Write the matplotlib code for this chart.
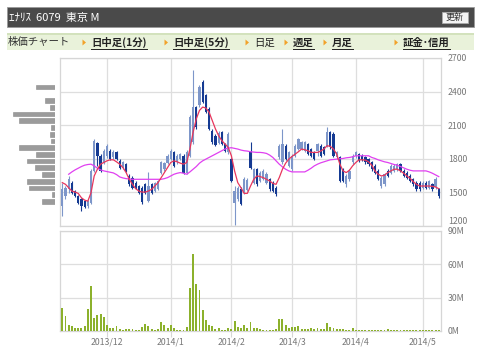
import numpy as np
import matplotlib
matplotlib.use("Agg")
import matplotlib.pyplot as plt
from matplotlib.patches import Rectangle, Polygon
from matplotlib.lines import Line2D

plt.rcParams['font.family'] = ['Noto Sans CJK JP', 'DejaVu Sans']

# ---- データ ----
opens = [1377, 1467, 1527, 1587, 1512, 1467, 1443, 1422, 1377, 1407,
         1692, 1941, 1827, 1767, 1827, 1872, 1812, 1857, 1782, 1722,
         1752, 1647, 1632, 1587, 1557, 1542, 1572, 1422, 1572, 1512,
         1533, 1677, 1707, 1761, 1797, 1857, 1767, 1797, 1827, 1677,
         1827, 1947, 2262, 2277, 2487, 2367, 2247, 2052, 2007, 1941,
         2037, 1932, 1857, 1797, 1407, 1437, 1530, 1497, 1521, 1857,
         1587, 1707, 1602, 1623, 1587, 1617, 1587, 1542, 1812, 1767,
         1917, 1737, 1707, 1827, 1887, 1887, 1872, 1932, 1887, 1857,
         1872, 1917, 1902, 1917, 2037, 2022, 1812, 1812, 1707, 1572,
         1617, 1767, 1821, 1842, 1827, 1812, 1797, 1767, 1737, 1692,
         1557, 1572, 1692, 1677, 1692, 1707, 1752, 1692, 1677, 1647,
         1617, 1587, 1587, 1542, 1587, 1542, 1572, 1545, 1527]
highs = [1587, 1557, 1647, 1600, 1520, 1475, 1450, 1430, 1435, 1710,
         1977, 1950, 1840, 1890, 1935, 1890, 1880, 1870, 1795, 1780,
         1765, 1660, 1645, 1600, 1570, 1555, 1585, 1680, 1585, 1595,
         1615, 1780, 1775, 1840, 1890, 1870, 1840, 1855, 1845, 1875,
         2190, 2592, 2275, 2460, 2500, 2380, 2260, 2065, 2020, 2045,
         2050, 1945, 2035, 1810, 1557, 1560, 1551, 1635, 1625, 1947,
         1720, 1720, 1690, 1705, 1680, 1630, 1600, 1555, 1935, 2067,
         1930, 1870, 1840, 1930, 1990, 1960, 1960, 1945, 1900, 1870,
         1945, 1930, 1915, 2082, 2050, 2035, 1870, 1825, 1720, 1660,
         1705, 1840, 1870, 1855, 1840, 1825, 1810, 1780, 1750, 1705,
         1645, 1675, 1705, 1750, 1750, 1765, 1765, 1705, 1690, 1660,
         1630, 1600, 1600, 1600, 1600, 1615, 1585, 1635, 1540]
lows = [1287, 1437, 1497, 1485, 1455, 1395, 1332, 1360, 1365, 1395,
        1680, 1737, 1680, 1750, 1810, 1785, 1800, 1785, 1710, 1710,
        1680, 1560, 1530, 1530, 1485, 1400, 1485, 1410, 1485, 1500,
        1520, 1665, 1695, 1750, 1785, 1725, 1755, 1785, 1665, 1665,
        1815, 1935, 2070, 2265, 2295, 2205, 2055, 1935, 1910, 1930,
        1920, 1860, 1845, 1590, 1212, 1425, 1390, 1485, 1510, 1710,
        1575, 1560, 1590, 1610, 1575, 1515, 1500, 1470, 1800, 1750,
        1785, 1725, 1690, 1815, 1875, 1875, 1860, 1830, 1815, 1785,
        1825, 1815, 1830, 1905, 1890, 1815, 1800, 1590, 1590, 1545,
        1605, 1755, 1810, 1770, 1780, 1755, 1740, 1695, 1660, 1610,
        1540, 1560, 1635, 1665, 1680, 1695, 1680, 1635, 1620, 1590,
        1560, 1515, 1515, 1530, 1530, 1530, 1515, 1530, 1452]
closes = [1527, 1542, 1617, 1497, 1467, 1407, 1377, 1371, 1422, 1692,
          1962, 1827, 1692, 1872, 1917, 1797, 1857, 1797, 1722, 1767,
          1692, 1572, 1542, 1542, 1497, 1413, 1497, 1557, 1497, 1581,
          1602, 1767, 1761, 1827, 1872, 1737, 1827, 1842, 1677, 1857,
          2172, 2262, 2082, 2442, 2307, 2217, 2067, 1947, 1923, 2031,
          1932, 1872, 2022, 1602, 1512, 1542, 1400, 1617, 1610, 1722,
          1707, 1572, 1677, 1692, 1662, 1527, 1512, 1482, 1917, 1932,
          1797, 1857, 1827, 1917, 1977, 1947, 1947, 1842, 1827, 1797,
          1932, 1827, 1842, 2037, 1902, 1827, 1857, 1602, 1602, 1647,
          1692, 1827, 1857, 1782, 1791, 1767, 1752, 1707, 1671, 1623,
          1632, 1662, 1647, 1737, 1737, 1752, 1692, 1647, 1632, 1602,
          1572, 1527, 1527, 1587, 1542, 1602, 1527, 1620, 1467]
# 出来高 (百万株)
volumes = [21, 13.5, 5.4, 4.2, 3, 3, 3, 4.8, 19.8, 40.5,
           11.4, 14.4, 15, 12.3, 5.4, 3, 2.4, 4.8, 1.5, 1.2,
           1.5, 1.5, 1.5, 0.9, 0.9, 3.3, 6.3, 4.8, 1.5, 1.2,
           1.5, 8.4, 5.4, 2.4, 5.4, 2.4, 0.9, 0.9, 1.2, 3.3,
           38.4, 69, 42, 36.6, 18.9, 9.6, 5.4, 4.2, 1.8, 2.4,
           1.2, 0.9, 3, 1.8, 9, 3.6, 3, 5.4, 2.4, 7.8,
           2.4, 2.4, 1.5, 1.2, 1.2, 1.2, 1.2, 1.5, 11.1, 10.5,
           5.4, 3, 3.6, 3.3, 4.2, 1.8, 1.8, 1.5, 2.4, 1.5,
           3, 1.8, 1.8, 6.9, 3.6, 2.4, 1.5, 1.8, 1.5, 1.2,
           1.2, 2.4, 0.9, 0.9, 0.9, 0.6, 0.6, 0.9, 0.6, 0.6,
           0.6, 0.9, 1.8, 0.9, 0.6, 0.6, 0.6, 0.6, 0.6, 0.6,
           0.6, 0.9, 0.6, 0.6, 0.6, 0.6, 0.6, 1.2, 1.2]
# 短期移動平均 (赤)
ma_short = [1587, 1572, 1542, 1512, 1503, 1491, 1452, 1431, 1422, 1497,
            1647, 1707, 1752, 1767, 1782, 1791, 1791, 1773, 1752, 1722,
            1677, 1617, 1572, 1533, 1512, 1503, 1503, 1512, 1527, 1557,
            1587, 1632, 1677, 1722, 1767, 1782, 1773, 1761, 1752, 1767,
            1887, 2037, 2157, 2232, 2262, 2253, 2217, 2142, 2067, 2007,
            1962, 1932, 1902, 1827, 1692, 1587, 1542, 1491, 1491, 1557,
            1617, 1647, 1641, 1632, 1617, 1602, 1581, 1572, 1632, 1707,
            1761, 1797, 1821, 1842, 1863, 1887, 1881, 1872, 1857, 1857,
            1857, 1869, 1887, 1917, 1911, 1887, 1842, 1752, 1692, 1677,
            1698, 1737, 1767, 1791, 1791, 1788, 1773, 1743, 1692, 1662,
            1647, 1653, 1677, 1692, 1707, 1707, 1692, 1671, 1647, 1626,
            1596, 1572, 1557, 1557, 1557, 1557, 1554, 1548, 1533]
# 長期移動平均 (紫)
ma_long = [np.nan, np.nan, 1662, 1683, 1701, 1716, 1731, 1743, 1749, 1752,
           1737, 1716, 1701, 1692, 1686, 1680, 1674, 1659, 1638, 1629,
           1623, 1620, 1617, 1617, 1617, 1617, 1617, 1617, 1617, 1617,
           1617, 1617, 1623, 1632, 1647, 1662, 1671, 1677, 1671, 1662,
           1683, 1707, 1731, 1761, 1782, 1797, 1812, 1827, 1842, 1857,
           1872, 1887, 1896, 1899, 1893, 1887, 1878, 1872, 1869, 1863,
           1860, 1857, 1857, 1854, 1848, 1833, 1812, 1782, 1752, 1728,
           1707, 1692, 1683, 1683, 1683, 1683, 1683, 1698, 1716, 1737,
           1752, 1764, 1773, 1782, 1791, 1794, 1797, 1800, 1803, 1809,
           1812, 1818, 1827, 1827, 1827, 1827, 1827, 1812, 1803, 1791,
           1782, 1773, 1767, 1758, 1749, 1743, 1731, 1719, 1707, 1698,
           1692, 1692, 1692, 1692, 1692, 1683, 1671, 1656, 1641]
# 価格帯別出来高
profile_prices = [2440, 2380, 2320, 2260, 2200, 2140, 2080, 2020, 1960,
                  1900, 1840, 1780, 1720, 1660, 1600, 1540, 1480, 1420]
profile_vols = [19, 0, 10, 5, 41.7, 36, 4.3, 5, 3.7,
                36, 19, 27.7, 19.7, 13, 27.7, 26.3, 3.3, 13.3]

month_pos = [14, 34, 53, 72, 92, 113]
month_labels = ['2013/12', '2014/1', '2014/2', '2014/3', '2014/4', '2014/5']
price_ticks = [1200, 1500, 1800, 2100, 2400, 2700]
vol_ticks = [0, 30, 60, 90]

W, H = 480, 360
def fx(px): return px / W
def fy(py): return 1 - py / H

LIGHT = '#7d96c9'
DARK = '#153a92'
GRID = '#dedede'
TXT = '#777777'

fig = plt.figure(figsize=(4.8, 3.6), dpi=100)

# ヘッダー
fig.patches.append(Rectangle((fx(7), fy(27)), fx(467), 20 / H, transform=fig.transFigure,
                             facecolor='#4a4a4a', edgecolor='#9a9a9a', lw=0.6))
fig.text(fx(9), fy(17.5), 'ｴﾅﾘｽ  6079  東京 M', color='white', fontsize=8, va='center')
fig.patches.append(Rectangle((fx(442), fy(23)), 26 / W, 11 / H, transform=fig.transFigure,
                             facecolor='#f4f4f4', edgecolor='#aaaaaa', lw=0.6))
fig.text(fx(455), fy(17.5), '更新', color='#333333', fontsize=6.5, va='center', ha='center')

# ナビバー
fig.patches.append(Rectangle((fx(7), fy(50)), fx(467), 16 / H, transform=fig.transFigure,
                             facecolor='#e9f2da', edgecolor='none'))
fig.patches.append(Rectangle((fx(7), fy(34.5)), fx(467), 1.2 / H, transform=fig.transFigure,
                             facecolor='#d3e2bd', edgecolor='none'))
fig.text(fx(8), fy(42.5), '株価チャート', color='#333333', fontsize=7.5, va='center')
nav = [(84, '日中足(1分)', True), (166, '日中足(5分)', True), (247, '日足', False),
       (286, '週足', True), (325, '月足', True), (396, '証金･信用', True)]
nav_texts = []
for px, label, link in nav:
    fig.patches.append(Polygon([(fx(px - 1.5), fy(39.5)), (fx(px - 1.5), fy(45.5)), (fx(px + 2), fy(42.5))],
                               closed=True, transform=fig.transFigure, facecolor='#f2a22a', edgecolor='none'))
    t = fig.text(fx(px + 7), fy(42.5), label, color='#222222', fontsize=7.5, va='center',
                 fontweight='bold' if link else 'normal')
    nav_texts.append((t, link))

# 株価
ax = fig.add_axes([fx(60), fy(226), 381 / W, 168 / H])
x = np.arange(len(closes))
o = np.array(opens)
c = np.array(closes)
up = c >= o
cols = np.where(up, LIGHT, DARK)
ax.vlines(x, lows, highs, colors=cols, lw=0.8, zorder=2)
ax.bar(x, np.maximum(np.abs(c - o), 8), bottom=np.minimum(o, c), width=0.7, color=cols, zorder=3)
ax.plot(x, ma_long, color='#e040f0', lw=0.9, zorder=4)
ax.plot(x, ma_short, color='#e8365c', lw=0.9, zorder=5)
ax.set_xlim(-0.72, 118.7)
ax.set_ylim(1200, 2700)
ax.set_yticks(price_ticks)
ax.set_xticks(month_pos)
ax.set_xticklabels([])
ax.yaxis.tick_right()
ax.tick_params(length=0, labelsize=6.3, labelcolor=TXT, pad=5)
ax.get_yticklabels()[0].set_va('bottom')
ax.grid(True, color=GRID, lw=0.9)
ax.set_axisbelow(True)
for s in ax.spines.values():
    s.set_color('#d6d6d6')
    s.set_linewidth(0.9)

# 価格帯別出来高
axp = fig.add_axes([fx(7), fy(226), 48 / W, 168 / H])
axp.barh(profile_prices, profile_vols, height=42, color='#9b9b9b', edgecolor='#8a8a8a', lw=0.4)
axp.set_xlim(48, 0)
axp.set_ylim(1200, 2700)
axp.axis('off')

# 出来高
axv = fig.add_axes([fx(60), fy(331), 381 / W, 100 / H])
axv.bar(x, volumes, width=0.6, color='#8cb12c', zorder=3)
axv.set_xlim(-0.72, 118.7)
axv.set_ylim(0, 90)
axv.set_yticks(vol_ticks)
axv.set_yticklabels([f'{v}M' for v in vol_ticks])
axv.get_yticklabels()[-1].set_va('top')
axv.set_xticks(month_pos)
axv.set_xticklabels(month_labels)
axv.yaxis.tick_right()
axv.tick_params(axis='y', length=0, labelsize=6.3, labelcolor=TXT, pad=5)
axv.tick_params(axis='x', length=4, color='#d6d6d6', labelsize=6.3, labelcolor=TXT, pad=1)
axv.grid(True, color=GRID, lw=0.9)
axv.set_axisbelow(True)
for s in axv.spines.values():
    s.set_color('#d6d6d6')
    s.set_linewidth(0.9)

# リンクの下線
fig.canvas.draw()
r = fig.canvas.get_renderer()
for t, link in nav_texts:
    if not link:
        continue
    bb = t.get_window_extent(r).transformed(fig.transFigure.inverted())
    fig.lines.append(Line2D([bb.x0, bb.x1], [fy(48.5), fy(48.5)], transform=fig.transFigure,
                            color='#222222', lw=0.7))

fig.savefig('out.png', dpi=100)
